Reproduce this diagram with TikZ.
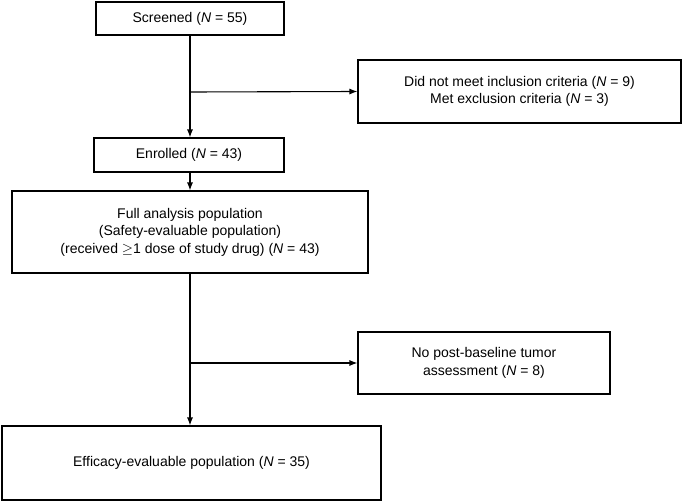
\documentclass[tikz,border=0pt]{standalone}
\usepackage{fontspec}
\setmainfont{Liberation Sans}
\usepackage{tikz}
\usetikzlibrary{arrows.meta}

\tikzset{
	box/.style={draw, line width=1.1pt, align=center, font=\fontsize{14}{17.5}\selectfont, inner sep=0pt},
	flow/.style={line width=1.1pt, -{Latex[length=8pt,width=6pt]}}
}

\begin{document}
\begin{tikzpicture}[x=1pt,y=1pt]

\useasboundingbox (0,0) rectangle (685,-503);

\node[box, minimum width=188, minimum height=33] (scr) at (190,-18.5) {Screened (\textit{N} = 55)};
\node[box, minimum width=323, minimum height=63] (excl) at (519.5,-91.5) {Did not meet inclusion criteria (\textit{N} = 9)\\Met exclusion criteria (\textit{N} = 3)};
\node[box, minimum width=190, minimum height=34] (enr) at (189,-155) {Enrolled (\textit{N} = 43)};
\node[box, minimum width=356, minimum height=82] (full) at (190,-232) {Full analysis population\\(Safety-evaluable population)\\(received $\geq$1 dose of study drug) (\textit{N} = 43)};
\node[box, minimum width=252, minimum height=62] (nopb) at (484,-363) {No post-baseline tumor\\assessment (\textit{N} = 8)};
\node[box, minimum width=379, minimum height=74] (eff) at (191.5,-463) {Efficacy-evaluable population (\textit{N} = 35)};

\coordinate (b1) at (190,-92);
\coordinate (b2) at (190,-363);

\draw[flow] (scr.south -| b1) -- (enr.north -| b1);
\draw[flow] (b1) -- (excl.west);
\draw[flow] (enr.south -| b1) -- (full.north -| b1);
\draw[flow] (full.south -| b2) -- (eff.north -| b2);
\draw[flow] (b2) -- (nopb.west);

\end{tikzpicture}
\end{document}
